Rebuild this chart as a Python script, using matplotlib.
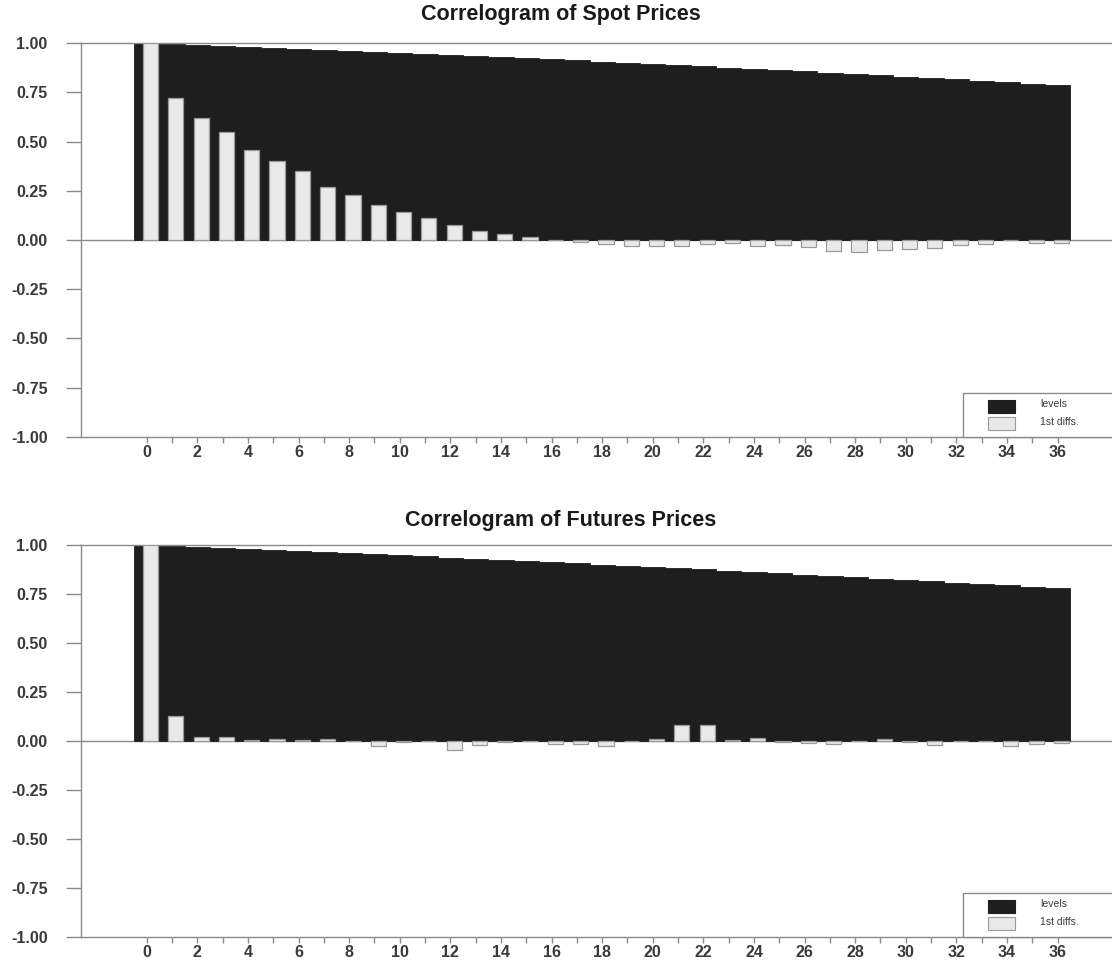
import numpy as np
import matplotlib
matplotlib.use("Agg")
import matplotlib.pyplot as plt
from matplotlib.patches import Rectangle

plt.rcParams['font.family'] = ['Liberation Sans', 'DejaVu Sans']

# autocorrelations by lag, 0..36
lags = list(range(37))

spot_levels = [1.000, 0.996, 0.991, 0.986, 0.981, 0.977, 0.972, 0.967, 0.961, 0.956,
               0.951, 0.946, 0.940, 0.935, 0.929, 0.924, 0.918, 0.912, 0.906, 0.900,
               0.894, 0.888, 0.882, 0.875, 0.869, 0.862, 0.856, 0.849, 0.843, 0.836,
               0.829, 0.822, 0.815, 0.808, 0.801, 0.794, 0.787]
spot_diffs = [1.000, 0.720, 0.620, 0.550, 0.455, 0.400, 0.350, 0.270, 0.230, 0.180,
              0.140, 0.110, 0.075, 0.045, 0.030, 0.015, 0.002, -0.010, -0.018, -0.032,
              -0.032, -0.028, -0.020, -0.013, -0.028, -0.025, -0.038, -0.055, -0.062, -0.052,
              -0.045, -0.040, -0.023, -0.020, 0.000, -0.016, -0.016]

fut_levels = [1.000, 0.995, 0.990, 0.985, 0.980, 0.975, 0.970, 0.964, 0.959, 0.953,
              0.948, 0.942, 0.936, 0.931, 0.925, 0.919, 0.913, 0.907, 0.900, 0.894,
              0.888, 0.881, 0.875, 0.868, 0.862, 0.855, 0.848, 0.841, 0.835, 0.828,
              0.821, 0.814, 0.807, 0.800, 0.794, 0.787, 0.781]
fut_diffs = [1.000, 0.125, 0.020, 0.020, 0.005, 0.010, 0.003, 0.008, 0.000, -0.028,
             -0.005, 0.000, -0.048, -0.018, -0.003, 0.000, -0.014, -0.017, -0.026, 0.000,
             0.010, 0.080, 0.080, 0.005, 0.015, -0.007, -0.012, -0.017, 0.000, 0.008,
             -0.007, -0.020, 0.000, 0.000, -0.024, -0.017, -0.010]

titles = ["Correlogram of Spot Prices", "Correlogram of Futures Prices"]
legend_labels = ["levels", "1st diffs."]
ytick_vals = [1.00, 0.75, 0.50, 0.25, 0.00, -0.25, -0.50, -0.75, -1.00]

DARK = "#1e1e1e"
LIGHT = "#e9e9e9"
EDGE = "#9a9a9a"
AXIS = "#8a8a8a"
TEXT = "#3a3a3a"

fig = plt.figure(figsize=(11.12, 9.6), dpi=100)


def draw_panel(rect, levels, diffs, title, title_y):
    ax = fig.add_axes(rect)
    x = np.array(lags)
    ax.bar(x, levels, width=1.0, color=DARK, edgecolor=DARK, linewidth=0.6, zorder=2)
    ax.bar(x + 0.15, diffs, width=0.6, color=LIGHT, edgecolor=EDGE, linewidth=0.9, zorder=3)
    ax.axhline(0, color=AXIS, lw=1.0, zorder=1)

    ax.set_xlim(-2.6, 38.15)
    ax.set_ylim(-1, 1)

    for side in ("top", "left", "bottom"):
        ax.spines[side].set_color(AXIS)
        ax.spines[side].set_linewidth(1.0)
    ax.spines["right"].set_visible(False)

    ax.set_yticks(ytick_vals)
    ax.set_yticklabels([f"{v:.2f}" for v in ytick_vals])
    ax.tick_params(axis="y", direction="out", length=11, width=1.0, color=AXIS,
                   pad=13, labelsize=11.5, labelcolor=TEXT)

    ax.set_xticks(lags[::2])
    ax.set_xticks(lags[1::2], minor=True)
    ax.set_xticklabels([str(v) for v in lags[::2]])
    ax.tick_params(axis="x", which="both", direction="out", length=4.5, width=1.0,
                   color=AXIS, pad=1, labelsize=11.5, labelcolor=TEXT)
    for lab in ax.get_xticklabels() + ax.get_yticklabels():
        lab.set_fontweight("bold")

    # legend box in the lower right corner, running off the right edge
    ax.add_patch(Rectangle((0.8555, 0.0), 0.16, 0.1117, transform=ax.transAxes,
                           facecolor="white", edgecolor=AXIS, lw=1.0, zorder=5,
                           clip_on=False))
    ax.add_patch(Rectangle((0.8797, 0.061), 0.0262, 0.033, transform=ax.transAxes,
                           facecolor=DARK, edgecolor=DARK, lw=0.8, zorder=6))
    ax.add_patch(Rectangle((0.8797, 0.018), 0.0262, 0.033, transform=ax.transAxes,
                           facecolor=LIGHT, edgecolor=EDGE, lw=0.8, zorder=6))
    ax.text(0.9305, 0.0845, legend_labels[0], transform=ax.transAxes, fontsize=7.5,
            color=TEXT, va="center", ha="left", zorder=7)
    ax.text(0.9305, 0.038, legend_labels[1], transform=ax.transAxes, fontsize=7.5,
            color=TEXT, va="center", ha="left", zorder=7)

    fig.text(0.504, title_y, title, ha="center", va="center", fontsize=15.5,
             fontweight="bold", color="#1a1a1a")
    return ax


draw_panel([0.0728, 0.5448, 0.9272, 0.4104], spot_levels, spot_diffs, titles[0], 0.985)
draw_panel([0.0728, 0.0240, 0.9272, 0.4083], fut_levels, fut_diffs, titles[1], 0.4583)

fig.savefig("out.png", dpi=100)
